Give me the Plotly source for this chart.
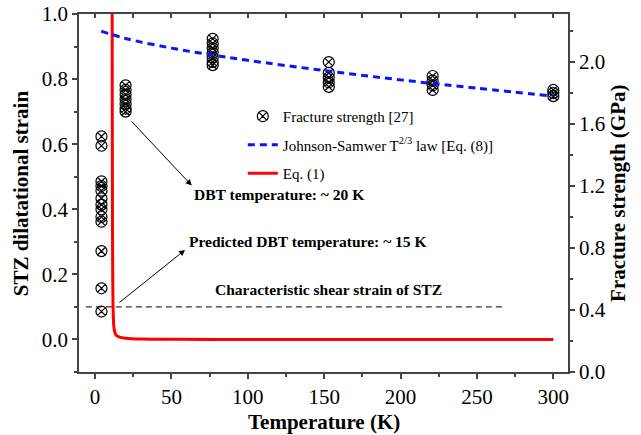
import plotly.graph_objects as go

# ---- data ----
frac_T = [4.2]*13 + [20]*7 + [77]*7 + [153]*5 + [221]*4 + [300]*3
frac_S = [1.52, 1.46, 1.23, 1.20, 1.17, 1.12, 1.08, 1.05, 1.00, 0.97, 0.78, 0.54, 0.39,
          1.85, 1.82, 1.79, 1.76, 1.73, 1.70, 1.68,
          2.15, 2.12, 2.09, 2.06, 2.03, 2.00, 1.98,
          2.00, 1.93, 1.90, 1.87, 1.84,
          1.91, 1.88, 1.85, 1.82,
          1.82, 1.80, 1.78]

js_T = [4, 20, 50, 77, 100, 150, 200, 250, 300]
js_S = [2.20, 2.152, 2.090, 2.045, 2.011, 1.945, 1.885, 1.831, 1.78]

eq1_T = [11.2, 11.25, 11.35, 11.5, 11.8, 12.3, 13.5, 16, 20, 30, 50, 100, 300]
eq1_E = [1.05, 0.8, 0.5, 0.25, 0.1, 0.04, 0.015, 0.007, 0.004, 0.0015, 0.0005, 0.0, 0.0]

char_T = [-6, 267]
char_E = [0.1, 0.1]

x_ticks = [0, 50, 100, 150, 200, 250, 300]
yl_ticks = [0.0, 0.2, 0.4, 0.6, 0.8, 1.0]
yr_ticks = [0.0, 0.4, 0.8, 1.2, 1.6, 2.0]

SERIF = "Liberation Serif, Times New Roman, serif"

fig = go.Figure()

fig.add_trace(go.Scatter(
    x=frac_T, y=frac_S, yaxis="y2", mode="markers",
    name="Fracture strength [27]", legendgroup="a",
    marker=dict(symbol="circle-x-open", size=11, color="black", line=dict(width=1.2, color="black")),
))
fig.add_trace(go.Scatter(
    x=js_T, y=js_S, yaxis="y2", mode="lines",
    name="Johnson-Samwer T<sup>2/3</sup> law [Eq. (8)]", legendgroup="b",
    line=dict(color="#0a14ff", width=3, dash="7px,5px", shape="spline"),
))
fig.add_trace(go.Scatter(
    x=eq1_T, y=eq1_E, mode="lines", name="Eq. (1)", legendgroup="c",
    line=dict(color="#ff0000", width=3, shape="spline", smoothing=0.6),
))
fig.add_trace(go.Scatter(
    x=char_T, y=char_E, mode="lines", showlegend=False,
    line=dict(color="black", width=1, dash="6px,4px"),
))

axis_common = dict(showline=True, linecolor="#444", linewidth=1.5, showgrid=False, zeroline=False,
                   ticks="outside", tickcolor="#444", tickwidth=1.5, ticklen=5,
                   ticklabeloverflow="allow", automargin=False,
                   tickfont=dict(family=SERIF, size=21, color="black"))
minor_common = dict(ticks="outside", ticklen=3, tickcolor="#444", tickwidth=1.5)

fig.update_layout(
    width=641, height=435,
    margin=dict(l=79, r=73, t=14, b=63, autoexpand=False),
    paper_bgcolor="white", plot_bgcolor="white",
    showlegend=True,
    legend=dict(x=0.335, y=0.76, xanchor="left", yanchor="top", bgcolor="rgba(0,0,0,0)",
                font=dict(family=SERIF, size=15, color="black"), tracegroupgap=6),
    xaxis=dict(range=[-10.5, 309.6], tickvals=x_ticks, **axis_common,
               minor=dict(dtick=25, tick0=0, **minor_common)),
    xaxis2=dict(range=[-10.5, 309.6], overlaying="x", side="top", anchor="y",
                showline=True, linecolor="#444", linewidth=1.5, showgrid=False, zeroline=False,
                ticks="inside", tickcolor="#444", tickwidth=1.5, ticklen=4, dtick=25, tick0=0,
                showticklabels=False, automargin=False),
    yaxis=dict(range=[-0.1, 1.0], tickvals=yl_ticks, tickformat=".1f", **axis_common,
               minor=dict(dtick=0.1, tick0=0, **minor_common)),
    yaxis2=dict(range=[0, 2.31], tickvals=yr_ticks, tickformat=".1f", overlaying="y", side="right",
                **axis_common,
                minor=dict(dtick=0.2, tick0=0, **minor_common)),
)
# dummy trace to show top axis
fig.add_trace(go.Scatter(x=[None], y=[None], xaxis="x2", showlegend=False, hoverinfo="skip"))

ann = [
    dict(text="<b>Temperature (K)</b>", xref="paper", yref="paper", x=0.5, y=-0.14,
         xanchor="center", yanchor="middle", showarrow=False,
         font=dict(family=SERIF, size=21, color="black")),
    dict(text="<b>STZ dilatational strain</b>", xref="paper", yref="paper", x=-0.118, y=0.5,
         xanchor="center", yanchor="middle", textangle=-90, showarrow=False,
         font=dict(family=SERIF, size=21, color="black")),
    dict(text="<b>Fracture strength (GPa)</b>", xref="paper", yref="paper", x=1.102, y=0.5,
         xanchor="center", yanchor="middle", textangle=-90, showarrow=False,
         font=dict(family=SERIF, size=21, color="black")),
    # arrows
    dict(x=63.3, y=0.473, ax=22.9, ay=0.675, xref="x", yref="y", axref="x", ayref="y",
         showarrow=True, arrowhead=2, arrowsize=1.2, arrowwidth=1, arrowcolor="black", text=""),
    dict(x=58.9, y=0.275, ax=15, ay=0.11, xref="x", yref="y", axref="x", ayref="y",
         showarrow=True, arrowhead=2, arrowsize=1.2, arrowwidth=1, arrowcolor="black", text=""),
    dict(text="<b>DBT temperature: ~ 20 K</b>", x=63.5, y=0.445, xref="x", yref="y",
         xanchor="left", yanchor="middle", showarrow=False,
         font=dict(family=SERIF, size=15.5, color="black")),
    dict(text="<b>Predicted DBT temperature: ~ 15 K</b>", x=60.5, y=0.302, xref="x", yref="y",
         xanchor="left", yanchor="middle", showarrow=False,
         font=dict(family=SERIF, size=15.5, color="black")),
    dict(text="<b>Characteristic shear strain of STZ</b>", x=77, y=0.155, xref="x", yref="y",
         xanchor="left", yanchor="middle", showarrow=False,
         font=dict(family=SERIF, size=15.5, color="black")),
]
fig.update_layout(annotations=ann)

fig.write_html("out.html", config={"displayModeBar": False},
               post_script="document.body.style.margin='0';document.body.style.overflow='hidden';")
